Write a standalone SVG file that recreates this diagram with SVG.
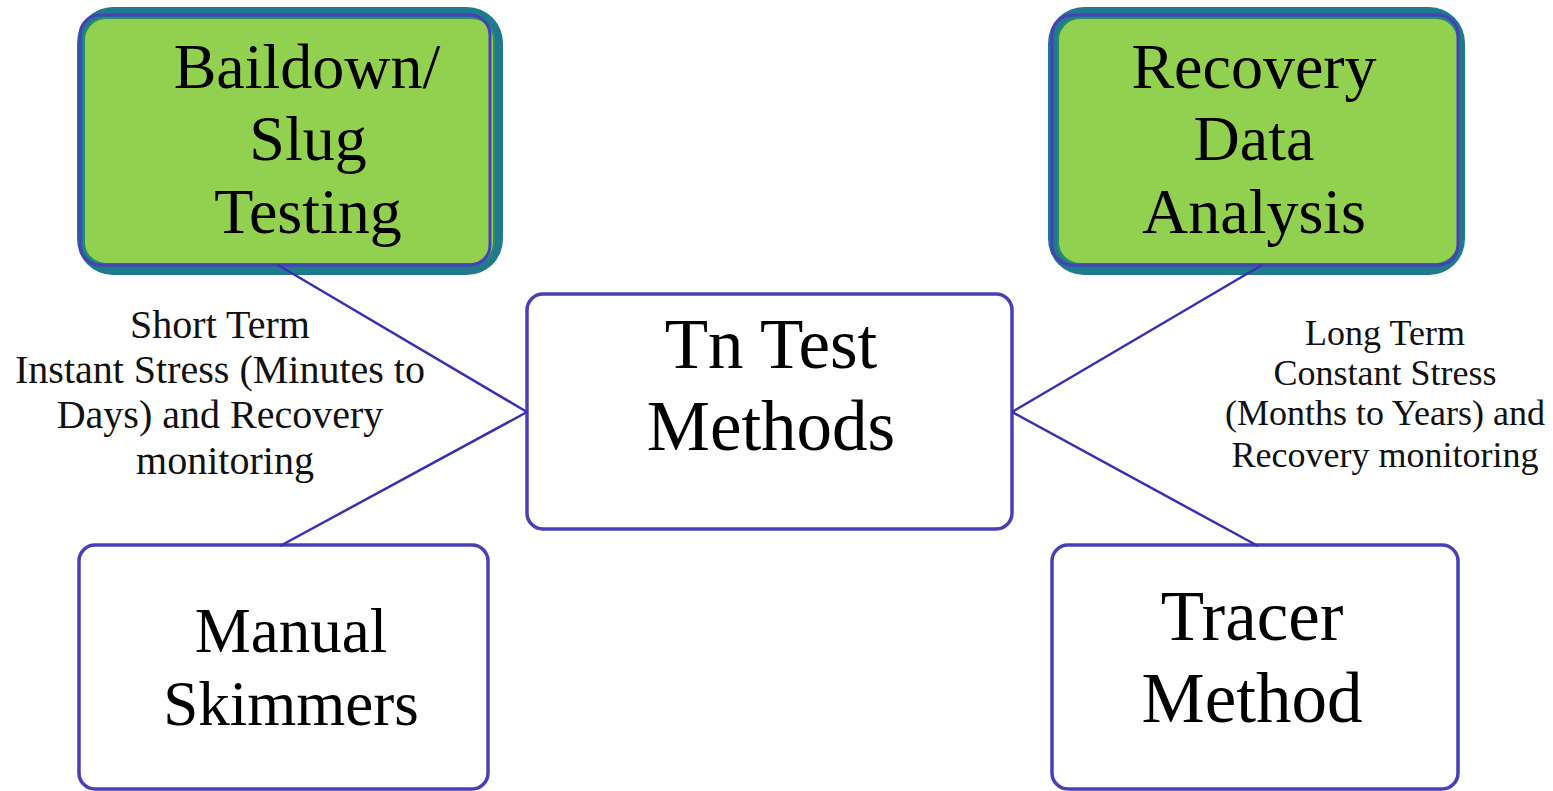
<svg xmlns="http://www.w3.org/2000/svg" width="1553" height="791" viewBox="0 0 1553 791">
<style>
.teal{fill:#1F7A8C;}
.green{fill:#92D050;stroke:#2A8C6E;stroke-width:2;}
.pur{fill:none;stroke:#4A3FB8;stroke-width:3;}
.wbox{fill:#ffffff;stroke:#4A3FB8;stroke-width:3.5;}
.big{font-family:"Liberation Serif","Times New Roman",serif;fill:#000;text-anchor:middle;}
.lbl{font-family:"Liberation Serif","Times New Roman",serif;fill:#111;text-anchor:middle;}
.conn{stroke:#3A30B0;stroke-width:2.5;fill:none;}
</style>
<rect width="1553" height="791" fill="#ffffff"/>
<g id="node-baildown">
<rect class="teal" x="77" y="7" width="426" height="268" rx="36"/>
<rect class="green" x="84" y="18" width="410" height="246" rx="22"/>
<rect class="pur" x="80" y="15" width="410" height="250" rx="20"/>
<text class="big" font-size="64"><tspan x="307" y="88">Baildown/</tspan><tspan x="308" y="160">Slug</tspan><tspan x="308" y="233">Testing</tspan></text>
</g>
<g id="node-recovery">
<rect class="teal" x="1048" y="7" width="417" height="268" rx="36"/>
<rect class="green" x="1058" y="18" width="400" height="246" rx="22"/>
<rect class="pur" x="1052" y="15" width="406" height="250" rx="20"/>
<text class="big" font-size="64"><tspan x="1254" y="88">Recovery</tspan><tspan x="1254" y="160">Data</tspan><tspan x="1254" y="233">Analysis</tspan></text>
</g>
<g id="node-tn">
<rect class="wbox" x="527" y="294" width="485" height="235" rx="16"/>
<text class="big" font-size="71"><tspan x="771" y="368">Tn Test</tspan><tspan x="771" y="450">Methods</tspan></text>
</g>
<g id="node-manual">
<rect class="wbox" x="79" y="545" width="409" height="244" rx="16"/>
<text class="big" font-size="63"><tspan x="291" y="652">Manual</tspan><tspan x="291" y="725">Skimmers</tspan></text>
</g>
<g id="node-tracer">
<rect class="wbox" x="1052" y="545" width="406" height="244" rx="16"/>
<text class="big" font-size="71"><tspan x="1252" y="640">Tracer</tspan><tspan x="1252" y="722">Method</tspan></text>
</g>
<g id="connectors">
<line class="conn" x1="278" y1="265" x2="527" y2="412"/>
<line class="conn" x1="527" y1="412" x2="280" y2="546"/>
<line class="conn" x1="1262" y1="265" x2="1012" y2="412"/>
<line class="conn" x1="1012" y1="412" x2="1258" y2="546"/>
</g>
<g id="label-left">
<text class="lbl" font-size="40"><tspan x="220" y="338">Short Term</tspan><tspan x="220" y="383">Instant Stress (Minutes to</tspan><tspan x="220" y="428">Days) and Recovery</tspan><tspan x="225" y="474">monitoring</tspan></text>
</g>
<g id="label-right">
<text class="lbl" font-size="36"><tspan x="1385" y="345">Long Term</tspan><tspan x="1385" y="385">Constant Stress</tspan><tspan x="1385" y="425">(Months to Years) and</tspan><tspan x="1385" y="467">Recovery monitoring</tspan></text>
</g>
</svg>
